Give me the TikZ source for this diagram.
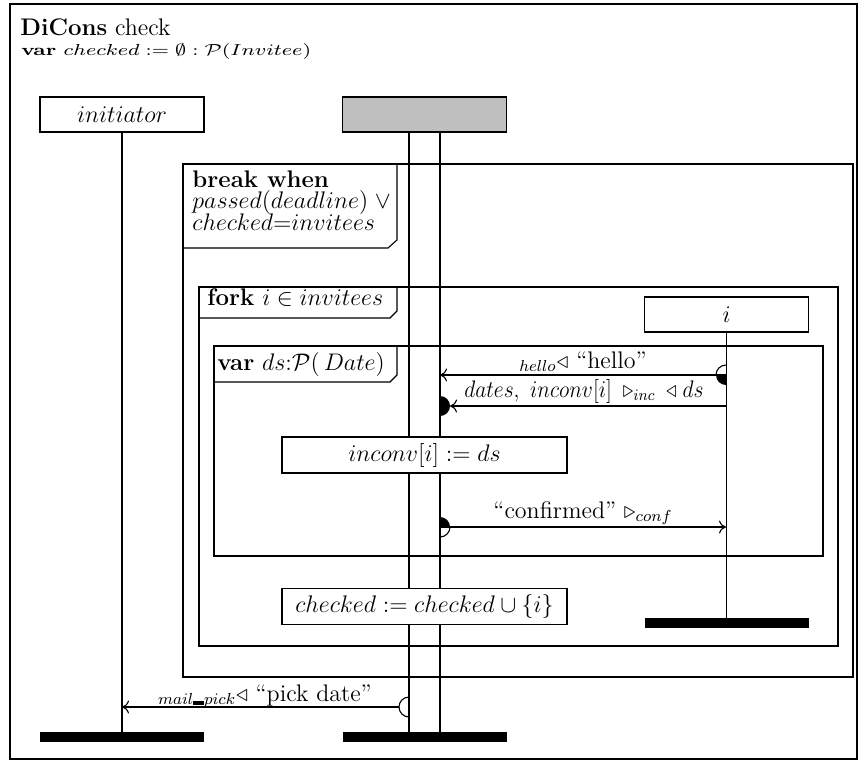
\documentclass[tikz,border=0pt]{standalone}
\usepackage{amssymb}
\usetikzlibrary{arrows.meta}
\newcommand{\usbar}{\mbox{\rule{0.45em}{0.16em}}}
\begin{document}
\begin{tikzpicture}[x=0.5pt,y=-0.5pt,font=\large,
  lifebox/.style={draw,line width=0.65pt,minimum width=82pt,minimum height=17.5pt,inner sep=0pt},
  actbox/.style={draw,fill=white,line width=0.65pt,minimum width=142.5pt,minimum height=18pt,inner sep=0pt},
  endbar/.style={fill=black,minimum width=82pt,minimum height=5pt,inner sep=0pt},
  life/.style={line width=0.55pt},
  frame/.style={line width=0.55pt},
  msg/.style={line width=0.55pt,-{To[length=3.5pt,width=6.5pt]}},
  txt/.style={anchor=base west,inner sep=0pt},
  lbl/.style={anchor=base,inner sep=0pt}]

\useasboundingbox (0,0) rectangle (860,760);

% outer diagram frame and header
\draw[frame] (10,4) rectangle (857,759);
\node[txt] (title) at (20,35) {\textbf{DiCons} check};
\node[txt,font=\fontsize{8}{10}\selectfont] (decl) at (21,55)
  {\scalebox{1.3}[1]{\textbf{var} $checked := \emptyset : \mathcal{P}(Invitee)$}};

% lifeline heads
\node[lifebox] (init) at (122,114.5) {$initiator$};
\node[lifebox,fill=gray!50] (ctrl) at (424.5,114.5) {};
\node[lifebox] (inv) at (726.5,314.5) {$i$};

% lifeline ends
\node[endbar] (initEnd) at (122,737) {};
\node[endbar] (ctrlEnd) at (424.5,737) {};
\node[endbar] (invEnd) at (726.5,623) {};

% lifelines
\draw[life] (init) -- (initEnd);
\draw[life] (inv) -- (invEnd);
\draw[life] ([xshift=-7.75pt]ctrl.south) -- ([xshift=-7.75pt]ctrlEnd.north);
\draw[life] ([xshift=7.75pt]ctrl.south) -- ([xshift=7.75pt]ctrlEnd.north);

% break frame
\draw[frame] (183,164) rectangle (853,677);
\draw[frame] (183,248) -- (388,248) -- (397,240) -- (397,164);
\node[txt] (brk1) at (192,187) {\textbf{break when}};
\node[txt] (brk2) at (192,208) {$passed(deadline)\;\vee$};
\node[txt] (brk3) at (192,230) {$checked{=}invitees$};

% fork frame
\draw[frame] (199,287) rectangle (838,646);
\draw[frame] (199,318) -- (390,318) -- (397,311) -- (397,287);
\node[txt] (fork) at (207,305) {\textbf{fork} $i\in invitees$};

% local variable frame
\draw[frame] (214,346) rectangle (823,556);
\draw[frame] (214,382) -- (390,382) -- (397,375) -- (397,346);
\node[txt] (var) at (217,370) {\textbf{var} $ds{:}\mathcal{P}(\,Date)$};

% actions
\node[actbox] (act1) at (424.5,455) {$inconv[i] := ds$};
\node[actbox] (act2) at (424.5,606.5) {$checked := checked\cup\{i\}$};

% message points on the lifelines
\coordinate (hS) at (726,375);
\coordinate (hT) at (440,375);
\coordinate (dS) at (726,406);
\coordinate (dP) at (440,406);
\coordinate (dT) at (450,406);
\coordinate (cP) at (440,527);
\coordinate (cS) at (450,527);
\coordinate (cT) at (726,527);
\coordinate (pP) at (409,707);
\coordinate (pS) at (399,707);
\coordinate (pT) at (122,707);

% hello
\draw[msg] (hS) -- (hT);
\fill (hS) -- ++(0,10) arc[start angle=270,end angle=180,radius=5pt] -- cycle;
\draw[life] (hS) ++(0,-10) arc[start angle=90,end angle=180,radius=5pt];
\node[lbl] (hLbl) at (583,368) {$_{hello}\triangleleft$ “hello”};

% dates
\draw[msg] (dS) -- (dT);
\fill (dP) ++(0,-10) arc[start angle=90,end angle=-90,radius=5pt] -- cycle;
\node[lbl] (dLbl) at (584,397)
  {\scalebox{0.9}[1]{$dates,\ inconv[i]\;\triangleright_{inc}\;\triangleleft\; ds$}};

% confirmed
\draw[msg] (cS) -- (cT);
\fill (cP) -- ++(0,-10) arc[start angle=90,end angle=0,radius=5pt] -- cycle;
\draw[life] (cS) arc[start angle=0,end angle=-90,radius=5pt];
\draw[life] (cP) -- (cS);
\node[lbl] (cLbl) at (583,518) {“confirmed” $\triangleright_{conf}$};

% pick date
\draw[msg] (pS) -- (pT);
\draw[life] (pP) ++(0,-10) arc[start angle=90,end angle=270,radius=5pt];
\node[lbl] (pLbl) at (265,701) {$_{mail\usbar pick}\triangleleft$ “pick date”};
\end{tikzpicture}
\end{document}
